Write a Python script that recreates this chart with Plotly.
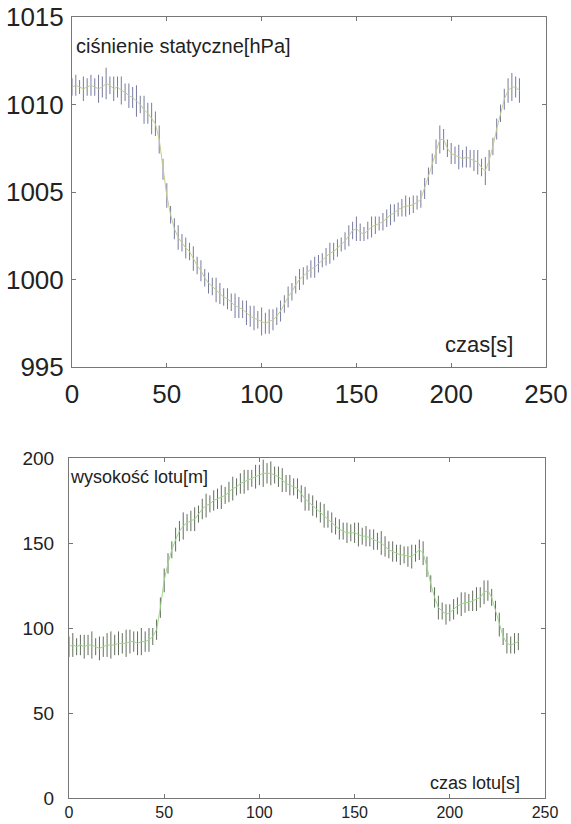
import plotly.graph_objects as go

# ---- data ----
t = list(range(0, 237, 2))

pressure = [1011.0, 1011.1, 1011.0, 1010.9, 1011.0, 1011.1, 1011.0, 1010.9, 1011.0, 1011.2,
            1011.1, 1010.9, 1011.0, 1010.8, 1010.7, 1010.5, 1010.4, 1010.2, 1010.0, 1009.7,
            1009.5, 1009.2, 1008.9, 1008.0, 1006.3, 1004.8, 1003.7, 1002.9, 1002.4, 1002.1,
            1001.8, 1001.6, 1001.2, 1000.8, 1000.5, 1000.1, 999.8, 999.6, 999.4, 999.2,
            999.0, 998.9, 998.7, 998.5, 998.4, 998.3, 998.1, 997.9, 997.8, 997.7,
            997.6, 997.5, 997.6, 997.7, 997.9, 998.2, 998.6, 999.0, 999.3, 999.7,
            1000.0, 1000.2, 1000.4, 1000.6, 1000.7, 1000.9, 1001.1, 1001.3, 1001.5, 1001.6,
            1001.8, 1002.0, 1002.2, 1002.5, 1002.8, 1002.9, 1002.7, 1002.6, 1002.8, 1003.0,
            1003.1, 1003.2, 1003.3, 1003.5, 1003.7, 1003.8, 1004.0, 1004.1, 1004.2, 1004.2,
            1004.3, 1004.4, 1004.6, 1005.2, 1005.9, 1006.6, 1007.3, 1008.0, 1008.0, 1007.5,
            1007.2, 1007.1, 1007.0, 1006.9, 1007.0, 1006.9, 1006.8, 1006.7, 1006.4, 1006.2,
            1006.8, 1007.6, 1008.6, 1009.5, 1010.3, 1010.8, 1011.0, 1011.0, 1010.8]

pressure_spread = [0.5, 0.6, 0.4, 0.7, 0.5, 0.6, 0.5, 0.8, 0.6, 0.9, 0.5, 0.7,
                   0.6, 0.8, 0.5, 0.7, 0.6, 0.9, 0.5, 0.8, 0.6, 0.9, 0.7, 0.8,
                   0.6, 0.7, 0.5, 0.6, 0.7, 0.5, 0.6, 0.5, 0.7, 0.5, 0.6, 0.5,
                   0.6, 0.5, 0.7, 0.6, 0.5, 0.6, 0.5, 0.7, 0.6, 0.5, 0.7, 0.6,
                   0.7, 0.5, 0.8, 0.6, 0.7, 0.6, 0.5, 0.6, 0.5, 0.6, 0.5, 0.5,
                   0.6, 0.5, 0.4, 0.5, 0.6, 0.5, 0.4, 0.5, 0.6, 0.5, 0.5, 0.4,
                   0.5, 0.6, 0.5, 0.7, 0.5, 0.4, 0.5, 0.6, 0.5, 0.4, 0.5, 0.5,
                   0.6, 0.5, 0.4, 0.5, 0.6, 0.5, 0.5, 0.4, 0.5, 0.6, 0.5, 0.6,
                   0.7, 0.8, 0.6, 0.5, 0.6, 0.5, 0.7, 0.5, 0.6, 0.5, 0.6, 0.7,
                   0.5, 0.8, 0.6, 0.5, 0.6, 0.5, 0.6, 0.7, 0.8, 0.6, 0.7]

height = [89, 90, 89, 90, 89, 90, 90, 89, 88, 89,
          90, 90, 90, 91, 91, 91, 92, 92, 91, 92,
          92, 93, 95, 99, 112, 128, 138, 146, 152, 157,
          160, 162, 163, 164, 167, 170, 172, 173, 175, 176,
          177, 178, 180, 182, 183, 185, 186, 187, 188, 189,
          190, 191, 191, 191, 190, 189, 187, 185, 184, 183,
          182, 179, 176, 174, 172, 170, 168, 166, 164, 162,
          160, 158, 157, 156, 156, 156, 155, 154, 154, 153,
          152, 151, 150, 148, 146, 145, 144, 143, 143, 142,
          142, 144, 146, 144, 136, 126, 118, 112, 110, 108,
          109, 111, 113, 114, 115, 115, 116, 117, 118, 121,
          122, 118, 110, 102, 95, 91, 90, 91, 92]

height_spread = [6, 7, 5, 6, 7, 6, 8, 5, 7, 6, 7, 8,
                 6, 7, 6, 8, 7, 6, 7, 8, 6, 7, 5, 6,
                 6, 7, 6, 5, 7, 6, 8, 5, 6, 7, 5, 6,
                 7, 5, 6, 6, 7, 5, 6, 7, 5, 6, 7, 6,
                 5, 7, 6, 8, 6, 7, 5, 6, 7, 5, 6, 5,
                 6, 5, 7, 5, 6, 5, 6, 7, 5, 6, 5, 6,
                 5, 6, 5, 6, 7, 5, 6, 5, 6, 5, 7, 6,
                 5, 6, 5, 6, 5, 6, 7, 5, 6, 7, 6, 5,
                 6, 7, 5, 6, 5, 6, 5, 7, 6, 5, 6, 7,
                 6, 7, 6, 5, 6, 7, 5, 6, 5, 6, 5]

x_ticks = [0, 50, 100, 150, 200, 250]
p_ticks = [995, 1000, 1005, 1010, 1015]
h_ticks = [0, 50, 100, 150, 200]

W, H = 571, 824
FONT = "Liberation Sans, Arial, sans-serif"

fig = go.Figure()

fig.add_trace(go.Scatter(
    x=t, y=pressure, mode="lines", xaxis="x", yaxis="y",
    line=dict(color="#c6cc8c", width=1),
    error_y=dict(type="data", symmetric=True, array=pressure_spread,
                 color="rgba(95,100,140,0.85)", thickness=1, width=0),
    showlegend=False, hoverinfo="skip"))

fig.add_trace(go.Scatter(
    x=t, y=height, mode="lines", xaxis="x2", yaxis="y2",
    line=dict(color="#9ed88a", width=1),
    error_y=dict(type="data", symmetric=True, array=height_spread,
                 color="rgba(70,85,65,0.85)", thickness=1, width=0),
    showlegend=False, hoverinfo="skip"))

axcommon = dict(showgrid=False, zeroline=False, showline=True, linecolor="#777",
                linewidth=1, mirror="ticks", ticks="inside", ticklen=4,
                tickcolor="#777", fixedrange=True, automargin=False)

def px_x(p):
    return p / W

def px_y(p):
    return 1 - p / H

fig.update_layout(
    width=W, height=H,
    margin=dict(l=0, r=0, t=0, b=0, autoexpand=False),
    paper_bgcolor="white", plot_bgcolor="white",
    xaxis=dict(domain=[px_x(72), px_x(546)], range=[0, 250], tickvals=x_ticks,
               anchor="y", tickfont=dict(family=FONT, size=26, color="#222"),
               ticklabelstandoff=4, **axcommon),
    yaxis=dict(domain=[px_y(367), px_y(17)], range=[995, 1015], tickvals=p_ticks,
               anchor="x", tickfont=dict(family=FONT, size=26, color="#222"),
               ticklabelstandoff=2, **axcommon),
    xaxis2=dict(domain=[px_x(69), px_x(545)], range=[0, 250], tickvals=x_ticks,
                anchor="y2", tickfont=dict(family=FONT, size=16, color="#222"),
                ticklabelstandoff=0, **axcommon),
    yaxis2=dict(domain=[px_y(798), px_y(458)], range=[0, 200], tickvals=h_ticks,
                anchor="x2", tickfont=dict(family=FONT, size=19, color="#222"),
                ticklabelstandoff=10, **axcommon),
)

def label(text, x, y, size, xanchor="left"):
    fig.add_annotation(text=text, x=px_x(x), y=px_y(y), xref="paper", yref="paper",
                       showarrow=False, xanchor=xanchor, yanchor="middle",
                       font=dict(family=FONT, size=size, color="#222"))

label("ciśnienie statyczne[hPa]", 74, 46, 20)
label("czas[s]", 443, 344, 22)
label("wysokość lotu[m]", 68, 477, 18)
label("czas lotu[s]", 428, 783, 18)

fig.write_html("out.html")
